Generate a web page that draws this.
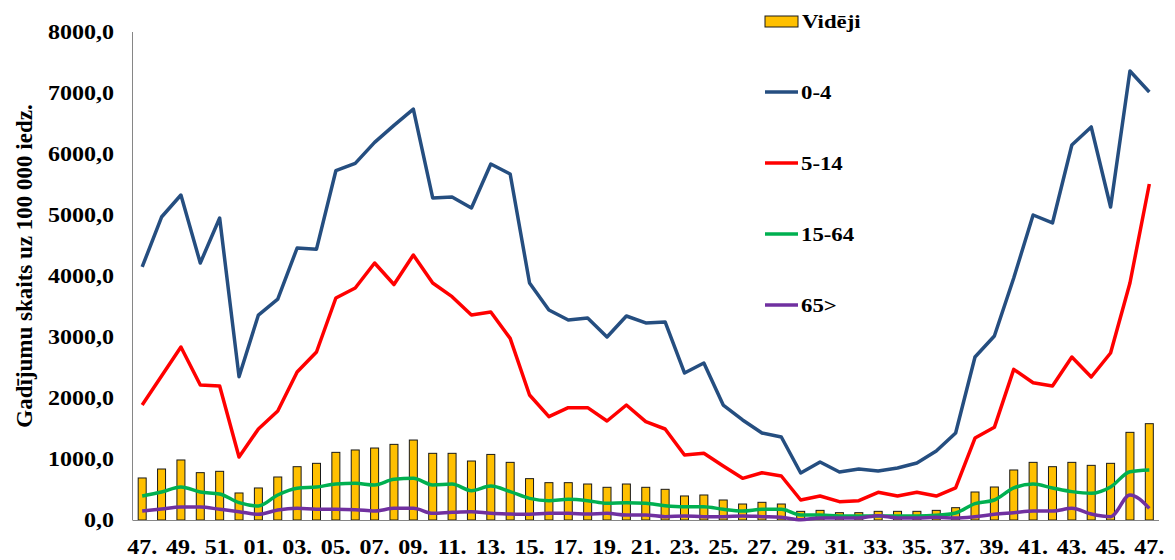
<!DOCTYPE html>
<html>
<head>
<meta charset="utf-8">
<script src="https://cdn.jsdelivr.net/npm/d3@7"></script>
<style>
  body { margin: 0; background: #fff; }
  text { font-family: "Liberation Serif", "Times New Roman", serif; font-weight: bold; fill: #000; }
</style>
</head>
<body>
<div id="chart"></div>
<script>
const weeks = ["47", "48", "49", "50", "51", "52", "01", "02", "03", "04", "05", "06", "07", "08",
  "09", "10", "11", "12", "13", "14", "15", "16", "17", "18", "19", "20", "21", "22", "23", "24",
  "25", "26", "27", "28", "29", "30", "31", "32", "33", "34", "35", "36", "37", "38", "39", "40",
  "41", "42", "43", "44", "45", "46", "47"];

const avg = [689, 836, 984, 776, 798, 443, 525, 705, 874, 929, 1109, 1148, 1180, 1240,
  1311, 1093, 1093, 967, 1075, 945, 678, 612, 612, 590, 536, 590, 536, 503, 394, 410,
  328, 262, 290, 262, 142, 158, 120, 120, 142, 142, 142, 158, 202, 459, 541, 820,
  945, 874, 945, 896, 929, 1437, 1579];

const age0_4 = [4148, 4967, 5328, 4213, 4950, 2350, 3360, 3620, 4459, 4440, 5726, 5847, 6190, 6470,
  6737, 5279, 5295, 5115, 5836, 5672, 3885, 3443, 3279, 3311, 3000, 3344, 3230, 3246, 2410, 2574,
  1885, 1640, 1426, 1360, 770, 951, 787, 836, 803, 852, 934, 1131, 1426, 2672, 3016, 3967,
  5000, 4869, 6148, 6443, 5131, 7361, 7016];

const age5_14 = [1885, 2360, 2836, 2213, 2197, 1033, 1492, 1787, 2426, 2754, 3639, 3803, 4213, 3860,
  4344, 3885, 3661, 3361, 3410, 2978, 2049, 1694, 1842, 1842, 1623, 1885, 1612, 1492, 1066, 1093,
  885, 683, 775, 721, 328, 393, 301, 317, 454, 393, 454, 393, 525, 1344, 1519, 2470,
  2251, 2197, 2672, 2344, 2738, 3885, 5508];

const age15_64 = [393, 459, 541, 459, 426, 284, 230, 410, 519, 541, 590, 601, 574, 667,
  683, 574, 590, 481, 557, 465, 355, 317, 339, 317, 273, 284, 273, 235, 219, 219,
  175, 148, 175, 175, 82, 82, 66, 66, 66, 66, 66, 76, 115, 268, 328, 525,
  590, 525, 465, 437, 541, 792, 820];

const age65 = [148, 181, 213, 213, 175, 137, 93, 164, 191, 175, 175, 170, 148, 191,
  191, 109, 126, 137, 109, 98, 93, 109, 109, 98, 109, 82, 82, 55, 66, 55,
  55, 66, 55, 44, 5, 33, 33, 33, 71, 33, 33, 44, 33, 55, 93, 120,
  148, 148, 191, 98, 55, 410, 191];

const yTicks = [0, 1000, 2000, 3000, 4000, 5000, 6000, 7000, 8000];

const series = [
  { name: "0-4", values: age0_4, color: "#254E80", smooth: false },
  { name: "5-14", values: age5_14, color: "#FF0000", smooth: false },
  { name: "15-64", values: age15_64, color: "#00B050", smooth: true },
  { name: "65>", values: age65, color: "#7030A0", smooth: true },
];

const width = 1175;
const height = 560;
const plot = { left: 132.5, right: 1159, top: 32, bottom: 520 };
const stretch = 1.2; // text in the original is widened horizontally

const svg = d3
  .select("#chart")
  .append("svg")
  .attr("width", width)
  .attr("height", height);

const idx = d3.range(weeks.length);

const x = d3
  .scaleBand()
  .domain(idx)
  .range([plot.left, plot.right]);

const y = d3
  .scaleLinear()
  .domain([0, 8000])
  .range([plot.bottom, plot.top]);

const cx = (i) => x(i) + x.bandwidth() / 2;

// bars
svg
  .append("g")
  .selectAll("rect")
  .data(avg)
  .enter()
  .append("rect")
  .attr("x", (d, i) => cx(i) - 4)
  .attr("y", (d) => y(d))
  .attr("width", 8)
  .attr("height", (d) => y(0) - y(d))
  .attr("fill", "#FFC000")
  .attr("stroke", "#1a1a1a")
  .attr("stroke-width", 1);

// axes lines
svg
  .append("line")
  .attr("x1", plot.left)
  .attr("x2", plot.left)
  .attr("y1", plot.top)
  .attr("y2", plot.bottom)
  .attr("stroke", "#868686")
  .attr("stroke-width", 1);

svg
  .append("line")
  .attr("x1", plot.left)
  .attr("x2", plot.right)
  .attr("y1", y(0) + 0.5)
  .attr("y2", y(0) + 0.5)
  .attr("stroke", "#868686")
  .attr("stroke-width", 1);

// lines
series.forEach((s) => {
  const line = d3
    .line()
    .x((d, i) => cx(i))
    .y((d) => y(d))
    .curve(s.smooth ? d3.curveMonotoneX : d3.curveLinear);
  svg
    .append("path")
    .datum(s.values)
    .attr("d", line)
    .attr("fill", "none")
    .attr("stroke", s.color)
    .attr("stroke-width", 3.5)
    .attr("stroke-linejoin", "round");
});

// y tick labels
const fmt = (v) => d3.format(".1f")(v).replace(".", ",");
svg
  .append("g")
  .selectAll("text")
  .data(yTicks)
  .enter()
  .append("text")
  .attr("transform", (d) => `translate(114, ${y(d) + 7}) scale(${stretch}, 1)`)
  .attr("text-anchor", "end")
  .style("font-size", "20px")
  .text(fmt);

// x tick labels (every other week)
svg
  .append("g")
  .selectAll("text")
  .data(idx.filter((i) => i % 2 === 0))
  .enter()
  .append("text")
  .attr("transform", (i) => `translate(${cx(i)}, 554) scale(${stretch}, 1)`)
  .attr("text-anchor", "middle")
  .style("font-size", "20px")
  .text((i) => weeks[i] + ".");

// y axis title
svg
  .append("text")
  .attr("transform", "translate(32, 266) rotate(-90)")
  .attr("text-anchor", "middle")
  .style("font-size", "23px")
  .text("Gadījumu skaits uz 100 000 iedz.");

// legend
const legend = svg.append("g").attr("transform", "translate(765, 0)");

legend
  .append("rect")
  .attr("x", 0)
  .attr("y", 16)
  .attr("width", 33)
  .attr("height", 11)
  .attr("fill", "#FFC000")
  .attr("stroke", "#1a1a1a")
  .attr("stroke-width", 1);

legend
  .append("text")
  .attr("transform", `translate(37, 28) scale(${stretch}, 1)`)
  .style("font-size", "19px")
  .text("Vidēji");

series.forEach((s, i) => {
  const ly = 92 + i * 71;
  legend
    .append("line")
    .attr("x1", 0)
    .attr("x2", 33)
    .attr("y1", ly)
    .attr("y2", ly)
    .attr("stroke", s.color)
    .attr("stroke-width", 3.5);
  legend
    .append("text")
    .attr("transform", `translate(36, ${ly + 7}) scale(${stretch}, 1)`)
    .style("font-size", "19px")
    .text(s.name);
});
</script>
</body>
</html>
